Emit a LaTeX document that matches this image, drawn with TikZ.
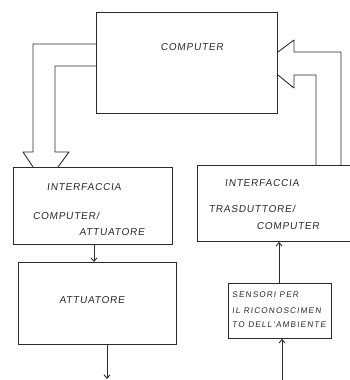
\documentclass[tikz,border=0pt]{standalone}
\usepackage{fontspec}
\setsansfont{Liberation Sans}[FakeSlant=0.12,LetterSpace=8]
\newfontfamily\smallsans{Liberation Sans}[FakeSlant=0.12,LetterSpace=14]
\usetikzlibrary{arrows.meta,calc}
\definecolor{ink}{HTML}{2B2B2B}
\tikzset{
  box/.style={draw=ink, line width=0.9pt, anchor=north west, inner sep=0pt},
  lbl/.style={text=ink, font=\sffamily\fontsize{10}{12}\selectfont, inner sep=0pt},
  small/.style={text=ink, font=\smallsans\fontsize{8.2}{9}\selectfont, inner sep=0pt, anchor=west},
  wire/.style={draw=ink, line width=0.9pt, line join=round},
  arr/.style={wire, -{Straight Barb[length=3.5pt,width=6pt]}}
}
\begin{document}
\begin{tikzpicture}[x=1pt,y=-1pt]
\useasboundingbox (0,0) rectangle (350,380);
% boxes
\node[box, minimum width=181pt, minimum height=101pt] (comp) at (96,12) {};
\node[box, minimum width=159pt, minimum height=77pt] (ifl) at (13,167) {};
\node[box, minimum width=165pt, minimum height=76pt] (ifr) at (197,165) {};
\node[box, minimum width=158pt, minimum height=82pt] (att) at (18,262) {};
\node[box, minimum width=103pt, minimum height=55pt] (sens) at (228,283) {};
% labels
\node[lbl] (tcomp) at (192,47) {COMPUTER};
\node[lbl] (tifl1) at (84,187) {INTERFACCIA};
\node[lbl] (tifl2) at (66,216) {COMPUTER/};
\node[lbl] (tifl3) at (112,232) {ATTUATORE};
\node[lbl] (tifr1) at (262,183) {INTERFACCIA};
\node[lbl] (tifr2) at (252,209) {TRASDUTTORE/};
\node[lbl] (tifr3) at (288,226) {COMPUTER};
\node[lbl] (tatt) at (92,300) {ATTUATORE};
\node[small] (ts1) at (232,295) {SENSORI PER};
\node[small] (ts2) at (232,311) {IL RICONOSCIMEN};
\node[small] (ts3) at (232,325) {TO DELL'AMBIENTE};
% coordinates for loose ends
\coordinate (outA) at (107,379);
\coordinate (inS) at (282,380);
% left wide arrow (computer -> interface)
\draw[wire] (comp.west |- 0,44) -- (33,44) -- (33,152) -- (23,152) -- (33,167);
\draw[wire] (58,167) -- (69,152) -- (55,152) -- (55,66) -- (comp.west |- 0,66);
% right wide arrow (interface -> computer)
\draw[wire] (341,165) -- (341,52) -- (294,52) -- (294,40) -- (comp.east |- 0,52);
\draw[wire] (comp.east |- 0,75) -- (294,88) -- (294,75) -- (316,75) -- (316,165);
% small arrows
\draw[arr] (ifl.south -| 94,0) -- (att.north -| 94,0);
\draw[arr] (att.south -| 107,0) -- (outA);
\draw[arr] (sens.north -| 279,0) -- (ifr.south -| 279,0);
\draw[arr] (inS) -- (sens.south -| 282,0);
\end{tikzpicture}
\end{document}
